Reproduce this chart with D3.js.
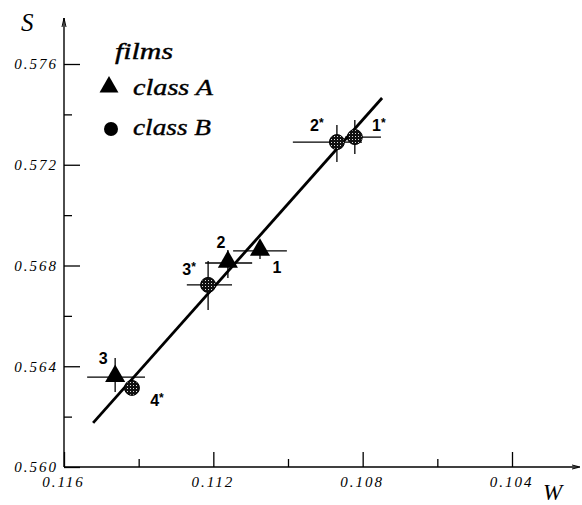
<!DOCTYPE html>
<html>
<head>
<meta charset="utf-8">
<script src="https://cdn.jsdelivr.net/npm/d3@7"></script>
<style>
  body { margin: 0; background: #fff; }
  .tick text { font-family: "Liberation Serif", "DejaVu Serif", serif; font-style: italic; font-size: 15px; letter-spacing: 2px; }
</style>
</head>
<body>
<div id="chart"></div>
<script>
// data
var classA = ["1", "2", "3"];
var classA_W = [0.11075, 0.11161, 0.11463];
var classA_S = [0.56858, 0.56810, 0.56357];
var classA_Wlo = [0.11147, 0.11222, 0.11538];
var classA_Whi = [0.11003, 0.11096, 0.11383];
var classA_Slo = [0.56826, 0.56750, 0.56298];
var classA_Shi = [0.56889, 0.56862, 0.56433];

var classB = ["1", "2", "3", "4"];
var classB_W = [0.10821, 0.10869, 0.11214, 0.11418];
var classB_S = [0.57310, 0.57290, 0.56723, 0.56314];
var classB_Wlo = [0.10847, 0.10987, 0.11271, null];
var classB_Whi = [0.10751, 0.10802, 0.11150, null];
var classB_Slo = [0.57243, 0.57211, 0.56623, null];
var classB_Shi = [0.57378, 0.57358, 0.56818, null];

var fitW = [0.11522, 0.10748];
var fitS = [0.56175, 0.57465];

var xMajor = [0.116, 0.112, 0.108, 0.104];
var xMinor = [0.114, 0.110, 0.106];
var yMajor = [0.560, 0.564, 0.568, 0.572, 0.576];
var yMinor = [0.562, 0.566, 0.570, 0.574];

// label offsets in px (layout only)
var offA = [[17, 17], [-7, -20], [-12, -19]];
var offB = [[24, -12], [-20, -17], [-19, -16], [25, 12]];

var width = 582, height = 505;
var serif = "'Liberation Serif', 'DejaVu Serif', serif";

var svg = d3.select("#chart")
  .append("svg")
  .attr("width", width)
  .attr("height", height);

// dotted fill for class B circles
var pat = svg.append("defs").append("pattern")
  .attr("id", "dots")
  .attr("patternUnits", "userSpaceOnUse")
  .attr("width", 3).attr("height", 3);
pat.append("rect").attr("width", 3).attr("height", 3).attr("fill", "#111");
pat.append("rect").attr("x", 1).attr("y", 1).attr("width", 1).attr("height", 1).attr("fill", "#ddd");

var x = d3.scaleLinear().domain([0.116, 0.104]).range([64, 512]);
var y = d3.scaleLinear().domain([0.560, 0.576]).range([467, 64]);

var x0 = x(0.116), y0 = y(0.560);

// X axis
svg.append("g")
  .attr("transform", "translate(0," + y0 + ")")
  .call(d3.axisBottom(x).tickValues(xMajor).tickFormat(d3.format(".3f"))
    .tickSizeInner(-15).tickSizeOuter(0).tickPadding(9))
  .call(g => g.select(".domain").remove())
  .call(g => g.selectAll(".tick text").attr("dx", "-1px"));
svg.append("g")
  .attr("transform", "translate(0," + y0 + ")")
  .call(d3.axisBottom(x).tickValues(xMinor).tickFormat("").tickSizeInner(-8).tickSizeOuter(0))
  .call(g => g.select(".domain").remove());

// Y axis
svg.append("g")
  .attr("transform", "translate(" + x0 + ",0)")
  .call(d3.axisLeft(y).tickValues(yMajor).tickFormat(d3.format(".3f"))
    .tickSizeInner(-16).tickSizeOuter(0).tickPadding(6))
  .call(g => g.select(".domain").remove());
svg.append("g")
  .attr("transform", "translate(" + x0 + ",0)")
  .call(d3.axisLeft(y).tickValues(yMinor).tickFormat("").tickSizeInner(-8).tickSizeOuter(0))
  .call(g => g.select(".domain").remove());

svg.selectAll(".tick line").attr("stroke", "#000").attr("stroke-width", 1.3);

// axis lines with arrows
svg.append("path")
  .attr("d", "M" + x0 + "," + y0 + "H578")
  .attr("stroke", "#000").attr("stroke-width", 1.4).attr("fill", "none");
svg.append("path")
  .attr("d", "M572,465L580," + y0 + "L572,469")
  .attr("stroke", "#000").attr("stroke-width", 1).attr("fill", "none");
svg.append("path")
  .attr("d", "M" + x0 + "," + y0 + "V18")
  .attr("stroke", "#000").attr("stroke-width", 1.4).attr("fill", "none");
svg.append("path")
  .attr("d", "M" + (x0 - 2) + ",27L" + x0 + ",18L" + (x0 + 2) + ",27")
  .attr("stroke", "#000").attr("stroke-width", 1).attr("fill", "none");

// axis titles
svg.append("text").attr("x", 21).attr("y", 31).text("S")
  .style("font-family", serif).style("font-style", "italic").style("font-size", "25px");
svg.append("text").attr("x", 543).attr("y", 500).text("W")
  .style("font-family", serif).style("font-style", "italic").style("font-size", "23px");

// fitted line
svg.append("path")
  .datum(d3.range(fitW.length))
  .attr("fill", "none")
  .attr("stroke", "#000")
  .attr("stroke-width", 2.8)
  .attr("d", d3.line().x(i => x(fitW[i])).y(i => y(fitS[i])));

// error bars
function errBars(W, S, Wlo, Whi, Slo, Shi) {
  var g = svg.append("g").attr("stroke", "#000").attr("stroke-width", 1.3);
  W.forEach(function(w, i) {
    if (Wlo[i] == null) return;
    g.append("line").attr("x1", x(Wlo[i])).attr("x2", x(Whi[i])).attr("y1", y(S[i])).attr("y2", y(S[i]));
    g.append("line").attr("x1", x(w)).attr("x2", x(w)).attr("y1", y(Slo[i])).attr("y2", y(Shi[i]));
  });
}
errBars(classA_W, classA_S, classA_Wlo, classA_Whi, classA_Slo, classA_Shi);
errBars(classB_W, classB_S, classB_Wlo, classB_Whi, classB_Slo, classB_Shi);

// class B circles
svg.append("g").selectAll("circle")
  .data(d3.range(classB.length))
  .join("circle")
  .attr("cx", i => x(classB_W[i]))
  .attr("cy", i => y(classB_S[i]))
  .attr("r", 7.5)
  .attr("fill", "url(#dots)")
  .attr("stroke", "#000")
  .attr("stroke-width", 1);

// class A triangles
var tri = d3.symbol().type(d3.symbolTriangle).size(175);
svg.append("g").selectAll("path")
  .data(d3.range(classA.length))
  .join("path")
  .attr("transform", i => "translate(" + x(classA_W[i]) + "," + (y(classA_S[i]) - 1) + ")")
  .attr("d", tri)
  .attr("fill", "#000");

// point labels
var lblStyle = function(t) {
  t.style("font-family", "'Liberation Sans', Arial, sans-serif").style("font-size", "16px")
   .style("font-weight", "bold")
   .attr("text-anchor", "middle").attr("dominant-baseline", "central");
};
classA.forEach(function(l, i) {
  svg.append("text")
    .attr("x", x(classA_W[i]) + offA[i][0])
    .attr("y", y(classA_S[i]) + offA[i][1])
    .call(lblStyle)
    .text(l);
});
classB.forEach(function(l, i) {
  var t = svg.append("text")
    .attr("x", x(classB_W[i]) + offB[i][0])
    .attr("y", y(classB_S[i]) + offB[i][1])
    .call(lblStyle);
  t.append("tspan").text(l);
  t.append("tspan").attr("dy", -2).style("font-size", "12px").text("*");
});

// legend
function legendText(tx, ty, len, s) {
  svg.append("text").attr("x", tx).attr("y", ty).text(s)
    .attr("textLength", len).attr("lengthAdjust", "spacingAndGlyphs")
    .attr("stroke", "#000").attr("stroke-width", 0.4)
    .style("font-family", serif).style("font-style", "italic").style("font-size", "23px");
}
legendText(115, 59, 58, "films");
svg.append("path")
  .attr("transform", "translate(109,87)")
  .attr("d", d3.symbol().type(d3.symbolTriangle).size(155))
  .attr("fill", "#000");
legendText(133, 95, 80, "class A");
svg.append("circle").attr("cx", 111).attr("cy", 129).attr("r", 7).attr("fill", "#000");
legendText(133, 135, 78, "class B");
</script>
</body>
</html>
